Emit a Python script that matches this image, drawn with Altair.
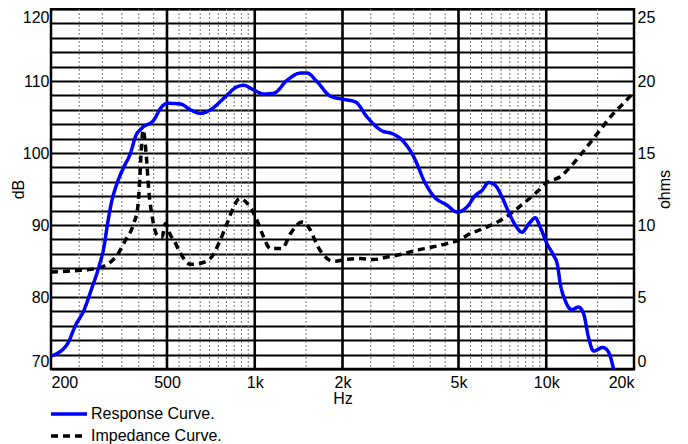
import altair as alt
import pandas as pd

# ---- data ----
resp_freq = [200, 227, 243, 259, 277, 292, 304, 313, 322, 337, 356, 375, 390, 411, 451, 475, 501, 556, 602, 651,
             705, 783, 870, 917, 992, 1074, 1162, 1291, 1434, 1512, 1636, 1817, 2018, 2214, 2428, 2697, 2996, 3201,
             3508, 3847, 4109, 4567, 4942, 5346, 5708, 6019, 6342, 6687, 7048, 7428, 7830, 8254, 8697, 9170, 9537,
             10055, 10593, 10932, 11167, 11616, 12247, 12900, 13427, 13964, 14530, 15650, 16357, 17016]
resp_db = [71.8, 73.4, 76.1, 78.1, 81.4, 84.2, 87.0, 90.3, 93.0, 95.8, 98.1, 100.0, 102.3, 103.5, 104.6, 106.2, 106.9,
           106.8, 106.0, 105.5, 106.0, 107.6, 109.2, 109.4, 108.75, 108.2, 108.3, 110.1, 111.1, 111.1, 109.9, 107.9,
           107.45, 107.1, 105.0, 103.2, 102.6, 101.8, 99.5, 95.8, 94.0, 92.75, 91.8, 92.5, 94.1, 94.8, 95.9, 95.5,
           93.9, 91.8, 90.0, 89.0, 90.1, 91.0, 89.7, 87.4, 85.8, 84.4, 81.9, 79.5, 78.25, 78.6, 77.7, 74.4, 72.5,
           73.0, 72.35, 70.0]

imp_freq = [200, 253, 288, 312, 337, 360, 385, 397, 403, 408, 414, 425, 433, 445, 463, 481, 494, 514, 528, 556, 602,
            643, 705, 753, 804, 847, 888, 942, 1006, 1060, 1132, 1241, 1326, 1454, 1552, 1636, 1724, 1866, 2074, 2303,
            2559, 2844, 3159, 3509, 4003, 4567, 5005, 5490, 6098, 7140, 8361, 9293, 10055, 11167, 12405, 13790,
            15313, 17010, 18408, 20000]
imp_ohm = [6.74, 6.86, 7.0, 7.27, 7.9, 8.94, 10.13, 11.26, 13.1, 15.2, 16.6, 14.7, 12.4, 10.56, 9.29, 9.17, 10.1,
           9.29, 8.94, 8.04, 7.27, 7.32, 7.69, 8.73, 10.13, 11.26, 11.84, 11.5, 10.56, 9.41, 8.37, 8.37, 9.41, 10.2,
           9.64, 8.6, 7.9, 7.48, 7.62, 7.67, 7.6, 7.78, 7.95, 8.2, 8.44, 8.71, 8.94, 9.41, 9.76, 10.45, 11.5, 12.3,
           12.94, 13.35, 14.28, 15.43, 16.6, 17.75, 18.45, 19.23]

series_names = ["Response Curve.", "Impedance Curve."]
x_ticks = [200, 500, 1000, 2000, 5000, 10000, 20000]
major_grid = [500, 1000, 2000, 5000, 10000]
minor_grid = [250, 300, 350, 400, 450,
              550, 600, 650, 700, 750, 800, 850, 900, 950,
              1500,
              2500, 3000, 3500, 4000, 4500,
              5500, 6000, 6500, 7000, 7500, 8000, 8500, 9000, 9500,
              15000]
db_grid = list(range(70, 121, 2))
ohm_ticks = [0, 5, 10, 15, 20, 25]

# ---- build ----
FONT = "Liberation Sans"
FS = 16
resp = pd.DataFrame({"freq": resp_freq, "value": resp_db, "series": series_names[0]})
imp = pd.DataFrame({"freq": imp_freq, "value": imp_ohm, "series": series_names[1]})

xscale = alt.Scale(type="log", domain=[200, 20000], nice=False)
xaxis = alt.Axis(values=x_ticks, labelExpr="datum.value >= 1000 ? (datum.value/1000) + 'k' : datum.label",
                 grid=False, ticks=False, domain=False, labelFlush=True, labelOverlap=False,
                 labelFont=FONT, labelFontSize=FS, labelColor="black", labelPadding=5,
                 title="Hz", titleFont=FONT, titleFontSize=FS, titleFontWeight="normal",
                 titleColor="black", titlePadding=0)
X = alt.X("freq:Q", scale=xscale, axis=xaxis)

legend = alt.Legend(title=None, orient="none", legendX=-2, legendY=394, direction="vertical",
                    symbolType="stroke", symbolSize=1296, symbolStrokeWidth=3.5,
                    labelFont=FONT, labelFontSize=FS, labelColor="black", labelOffset=2,
                    clipHeight=22, rowPadding=0, padding=0)
color = alt.Color("series:N", scale=alt.Scale(domain=series_names, range=["#0000ff", "#000000"]), legend=legend)
dash = alt.StrokeDash("series:N", scale=alt.Scale(domain=series_names, range=[[1, 0], [7, 5]]), legend=legend)

minor = alt.Chart(pd.DataFrame({"freq": minor_grid})).mark_rule(
    color="#777777", strokeWidth=1, strokeDash=[2, 2]).encode(x=X)
major = alt.Chart(pd.DataFrame({"freq": major_grid})).mark_rule(
    color="black", strokeWidth=2.6).encode(x=X)

imp_line = alt.Chart(imp).mark_line(strokeWidth=3.5, interpolate="monotone", clip=True).encode(
    x=X,
    y=alt.Y("value:Q", scale=alt.Scale(domain=[0, 25], nice=False, zero=False),
            axis=alt.Axis(orient="right", values=ohm_ticks, grid=False, ticks=False, domain=False,
                          labelFlush=True, labelOverlap=False, labelFont=FONT, labelFontSize=FS,
                          labelColor="black", labelPadding=3,
                          title="ohms", titleAngle=270, titleFont=FONT, titleFontSize=FS,
                          titleFontWeight="normal", titleColor="black", titlePadding=18)),
    color=color, strokeDash=dash)

resp_line = alt.Chart(resp).mark_line(strokeWidth=3.5, interpolate="monotone", clip=True).encode(
    x=X,
    y=alt.Y("value:Q", scale=alt.Scale(domain=[70, 120], nice=False, zero=False),
            axis=alt.Axis(orient="left", values=db_grid, grid=True, gridColor="black", gridWidth=2,
                          gridOpacity=1, ticks=False, domain=False, labelFlush=True, labelOverlap=False,
                          labelExpr="datum.value % 10 == 0 ? datum.label : ''",
                          labelFont=FONT, labelFontSize=FS, labelColor="black", labelPadding=2,
                          title="dB", titleFont=FONT, titleFontSize=FS, titleFontWeight="normal",
                          titleColor="black", titlePadding=-4)),
    color=color, strokeDash=dash)

chart = alt.layer(minor, major, imp_line, resp_line).resolve_scale(y="independent").properties(
    width=583, height=360,
    autosize=alt.AutoSizeParams(type="none"),
    padding={"left": 43, "top": 1, "right": 45, "bottom": 75},
    background="white",
).configure_view(stroke="black", strokeWidth=2.5)

chart.save("out.html", embed_options={"renderer": "svg", "actions": False})
